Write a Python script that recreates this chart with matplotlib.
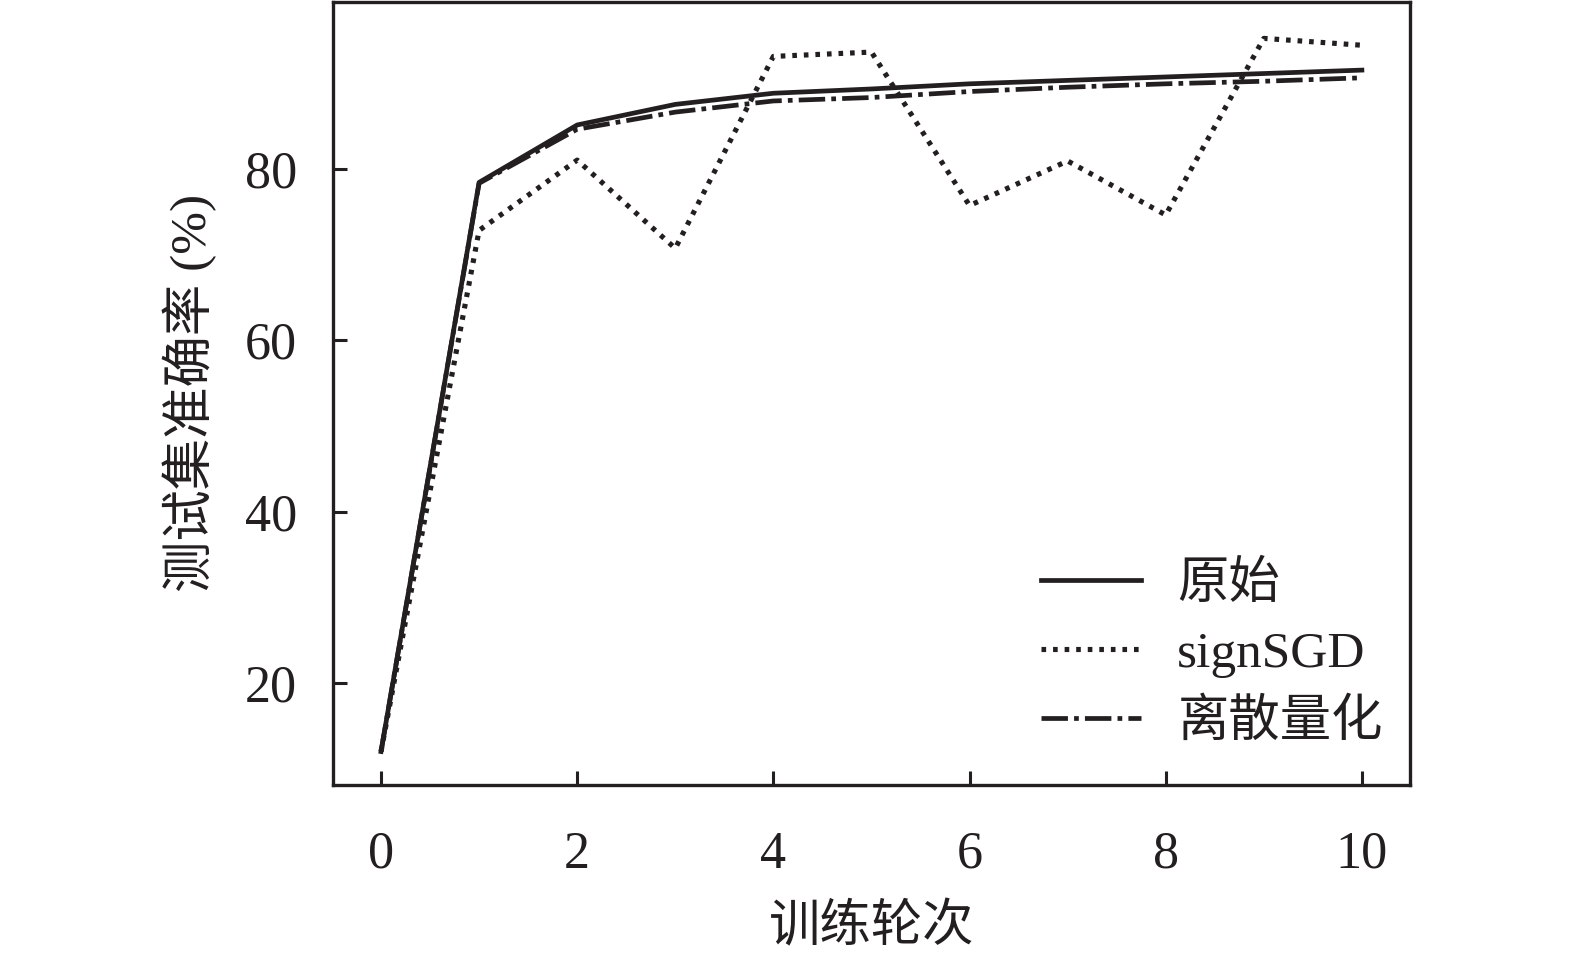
import matplotlib
matplotlib.use("Agg")
import matplotlib.pyplot as plt

epochs = [0, 1, 2, 3, 4, 5, 6, 7, 8, 9, 10]
original = [12.0, 78.4, 85.1, 87.5, 88.8, 89.3, 89.9, 90.3, 90.7, 91.1, 91.5]
signsgd = [12.0, 72.8, 81.0, 70.7, 93.1, 93.6, 75.7, 80.9, 74.6, 95.2, 94.4]
discrete = [12.0, 78.3, 84.6, 86.6, 87.9, 88.3, 89.0, 89.5, 89.9, 90.2, 90.6]
labels = ["原始", "signSGD", "离散量化"]
xticks = [0, 2, 4, 6, 8, 10]
yticks = [20, 40, 60, 80]

fam = ["Liberation Serif", "Noto Sans CJK SC"]
plt.rcParams["font.family"] = fam

fig = plt.figure(figsize=(15.75, 9.56), dpi=100)
ax = fig.add_axes([0.2114, 0.1789, 0.6838, 0.8195])

c = "#231f20"
ax.plot(epochs, original, color=c, lw=3.4, ls="-", label=labels[0])
ax.plot(epochs, signsgd, color=c, lw=3.7, ls=(0, (0.9, 1.35)), label=labels[1])
ax.plot(epochs, discrete, color=c, lw=3.4, ls=(0, (5.6, 1.3, 1.0, 1.3)), label=labels[2])

ax.set_xlim(-0.49, 10.49)
ax.set_ylim(8.1, 99.5)
ax.set_xticks(xticks)
ax.set_yticks(yticks)
ax.tick_params(direction="in", length=10, width=2.2, labelsize=37.5, pad=26, color=c, labelcolor=c)
ax.tick_params(axis="x", pad=33)
for s in ax.spines.values():
    s.set_linewidth(2.4)
    s.set_color(c)

ax.set_xlabel("训练轮次", fontsize=37, color=c, labelpad=18)
ax.set_ylabel("测试集准确率 (%)", fontsize=37, color=c, labelpad=20)

leg = ax.legend(loc="lower right", frameon=False, fontsize=37, handlelength=1.95,
                handletextpad=0.7, labelspacing=0.42, borderaxespad=0.4,
                bbox_to_anchor=(1.013, -0.004))
for t in leg.get_texts():
    t.set_color(c)

fig.savefig("out.png", dpi=100)
